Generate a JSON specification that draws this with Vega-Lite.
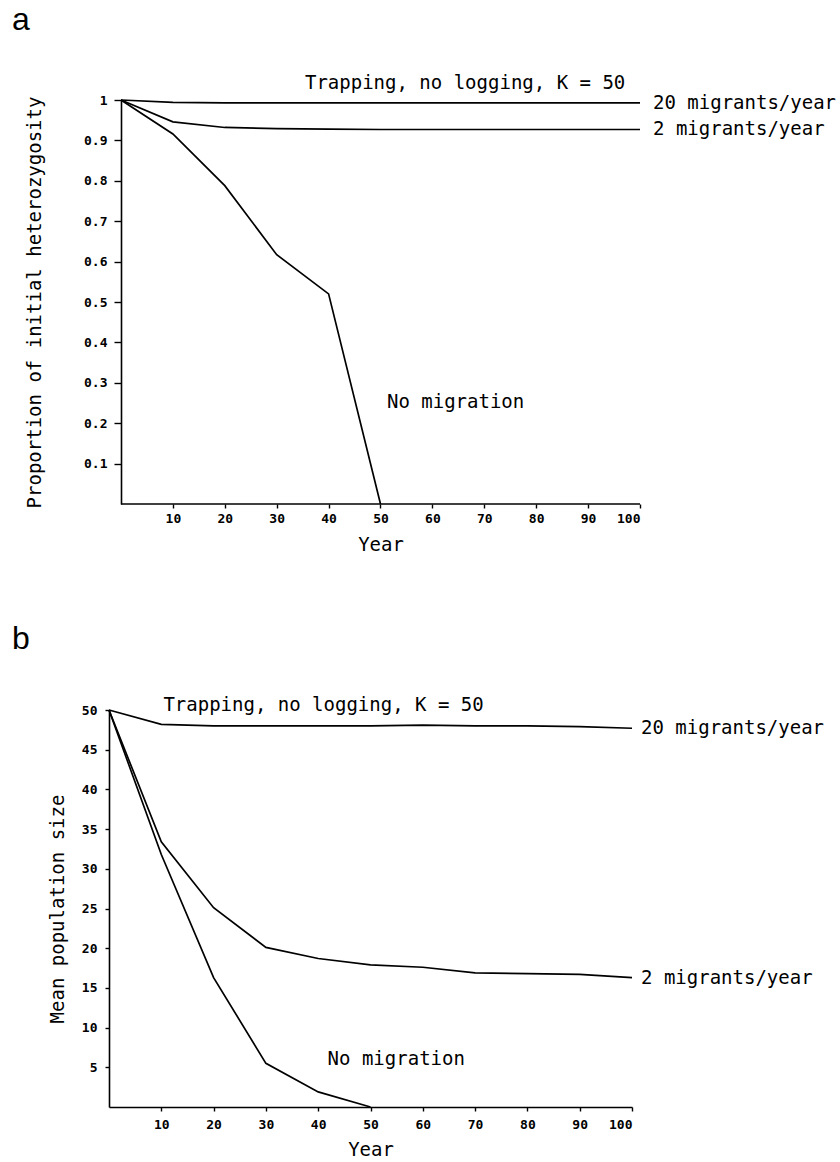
{
  "$schema": "https://vega.github.io/schema/vega-lite/v6.json",
  "background": "white",
  "padding": {"left": 12, "top": 4, "right": 0, "bottom": 0},
  "config": {
    "view": {"stroke": null},
    "font": "DejaVu Sans Mono",
    "axis": {
      "grid": false,
      "domainColor": "black", "domainWidth": 1.6,
      "tickColor": "black", "tickWidth": 1.4,
      "labelColor": "black", "labelFont": "DejaVu Sans Mono", "labelFontSize": 13, "labelFontWeight": "bold",
      "titleColor": "black", "titleFont": "DejaVu Sans Mono", "titleFontSize": 19, "titleFontWeight": "normal"
    },
    "title": {"font": "Liberation Sans", "fontSize": 32, "fontWeight": "normal", "color": "black", "anchor": "start", "frame": "group", "baseline": "alphabetic"},
    "concat": {"spacing": 69}
  },
  "datasets": {
    "seriesA": [
      {"series": "20 migrants/year", "year": 0, "h": 1},
      {"series": "20 migrants/year", "year": 10, "h": 0.994},
      {"series": "20 migrants/year", "year": 20, "h": 0.993},
      {"series": "20 migrants/year", "year": 30, "h": 0.993},
      {"series": "20 migrants/year", "year": 40, "h": 0.993},
      {"series": "20 migrants/year", "year": 50, "h": 0.993},
      {"series": "20 migrants/year", "year": 60, "h": 0.993},
      {"series": "20 migrants/year", "year": 70, "h": 0.993},
      {"series": "20 migrants/year", "year": 80, "h": 0.993},
      {"series": "20 migrants/year", "year": 90, "h": 0.993},
      {"series": "20 migrants/year", "year": 100, "h": 0.993},
      {"series": "2 migrants/year", "year": 0, "h": 1},
      {"series": "2 migrants/year", "year": 10, "h": 0.946},
      {"series": "2 migrants/year", "year": 20, "h": 0.932},
      {"series": "2 migrants/year", "year": 30, "h": 0.929},
      {"series": "2 migrants/year", "year": 40, "h": 0.928},
      {"series": "2 migrants/year", "year": 50, "h": 0.927},
      {"series": "2 migrants/year", "year": 60, "h": 0.927},
      {"series": "2 migrants/year", "year": 70, "h": 0.927},
      {"series": "2 migrants/year", "year": 80, "h": 0.927},
      {"series": "2 migrants/year", "year": 90, "h": 0.927},
      {"series": "2 migrants/year", "year": 100, "h": 0.927},
      {"series": "No migration", "year": 0, "h": 1},
      {"series": "No migration", "year": 10, "h": 0.916},
      {"series": "No migration", "year": 20, "h": 0.788},
      {"series": "No migration", "year": 30, "h": 0.617},
      {"series": "No migration", "year": 40, "h": 0.52},
      {"series": "No migration", "year": 50, "h": 0}
    ],
    "seriesB": [
      {"series": "20 migrants/year", "year": 0, "n": 50},
      {"series": "20 migrants/year", "year": 10, "n": 48.2},
      {"series": "20 migrants/year", "year": 20, "n": 48},
      {"series": "20 migrants/year", "year": 30, "n": 48},
      {"series": "20 migrants/year", "year": 40, "n": 48},
      {"series": "20 migrants/year", "year": 50, "n": 48},
      {"series": "20 migrants/year", "year": 60, "n": 48.1},
      {"series": "20 migrants/year", "year": 70, "n": 48},
      {"series": "20 migrants/year", "year": 80, "n": 48},
      {"series": "20 migrants/year", "year": 90, "n": 47.9},
      {"series": "20 migrants/year", "year": 100, "n": 47.7},
      {"series": "2 migrants/year", "year": 0, "n": 50},
      {"series": "2 migrants/year", "year": 10, "n": 33.4},
      {"series": "2 migrants/year", "year": 20, "n": 25.1},
      {"series": "2 migrants/year", "year": 30, "n": 20.1},
      {"series": "2 migrants/year", "year": 40, "n": 18.7},
      {"series": "2 migrants/year", "year": 50, "n": 17.9},
      {"series": "2 migrants/year", "year": 60, "n": 17.6},
      {"series": "2 migrants/year", "year": 70, "n": 16.9},
      {"series": "2 migrants/year", "year": 80, "n": 16.8},
      {"series": "2 migrants/year", "year": 90, "n": 16.7},
      {"series": "2 migrants/year", "year": 100, "n": 16.3},
      {"series": "No migration", "year": 0, "n": 50},
      {"series": "No migration", "year": 10, "n": 31.8},
      {"series": "No migration", "year": 20, "n": 16.3},
      {"series": "No migration", "year": 30, "n": 5.5},
      {"series": "No migration", "year": 40, "n": 1.9},
      {"series": "No migration", "year": 50, "n": 0}
    ],
    "inlineA": [
      {"label": "Trapping, no logging, K = 50", "year": 35.45, "h": 1.042},
      {"label": "No migration", "year": 51.25, "h": 0.252}
    ],
    "endA": [
      {"label": "20 migrants/year", "year": 100, "h": 0.993},
      {"label": "2 migrants/year", "year": 100, "h": 0.927}
    ],
    "inlineB": [
      {"label": "Trapping, no logging, K = 50", "year": 10.4, "n": 50.6},
      {"label": "No migration", "year": 41.8, "n": 6.0}
    ],
    "endB": [
      {"label": "20 migrants/year", "year": 100, "n": 47.7},
      {"label": "2 migrants/year", "year": 100, "n": 16.3}
    ]
  },
  "vconcat": [
    {
      "width": 531,
      "height": 404,
      "title": {"text": "a", "dx": -97, "offset": 37},
      "layer": [
        {
          "data": {"name": "seriesA"},
          "mark": {"type": "line", "color": "black", "strokeWidth": 1.7},
          "encoding": {
            "x": {
              "field": "year", "type": "quantitative",
              "scale": {"domain": [-2.31, 100], "nice": false, "zero": false},
              "axis": {
                "title": "Year", "domain": false,
                "values": [10, 20, 30, 40, 50, 60, 70, 80, 90, 100],
                "tickSize": 4, "labelPadding": 4,
                "titleX": 271.5, "titleY": 40, "titleBaseline": "middle"
              }
            },
            "y": {
              "field": "h", "type": "quantitative",
              "scale": {"domain": [0, 1], "nice": false},
              "axis": {
                "title": "Proportion of initial heterozygosity",
                "offset": -12,
                "values": [0.1, 0.2, 0.3, 0.4, 0.5, 0.6, 0.7, 0.8, 0.9, 1],
                "labelExpr": "datum.value == 1 ? '1' : format(datum.value, '.1f')",
                "tickSize": 7, "labelPadding": 7,
                "titleX": -87, "titleBaseline": "middle"
              }
            },
            "detail": {"field": "series", "type": "nominal"}
          }
        },
        {
          "data": {"values": [{}]},
          "mark": {"type": "rule", "color": "black", "strokeWidth": 1.6},
          "encoding": {
            "x": {"datum": 0, "type": "quantitative"},
            "x2": {"datum": 100},
            "y": {"datum": 0, "type": "quantitative"}
          }
        },
        {
          "data": {"name": "inlineA"},
          "mark": {"type": "text", "align": "left", "baseline": "middle", "font": "DejaVu Sans Mono", "fontSize": 19, "color": "black"},
          "encoding": {
            "x": {"field": "year", "type": "quantitative"},
            "y": {"field": "h", "type": "quantitative"},
            "text": {"field": "label"}
          }
        },
        {
          "data": {"name": "endA"},
          "mark": {"type": "text", "align": "left", "baseline": "middle", "dx": 13, "font": "DejaVu Sans Mono", "fontSize": 19, "color": "black"},
          "encoding": {
            "x": {"field": "year", "type": "quantitative"},
            "y": {"field": "h", "type": "quantitative"},
            "text": {"field": "label"}
          }
        }
      ]
    },
    {
      "width": 523,
      "height": 397,
      "title": {"text": "b", "dx": -97, "offset": 40},
      "layer": [
        {
          "data": {"name": "seriesB"},
          "mark": {"type": "line", "color": "black", "strokeWidth": 1.7},
          "encoding": {
            "x": {
              "field": "year", "type": "quantitative",
              "scale": {"domain": [0, 100], "nice": false},
              "axis": {
                "title": "Year",
                "values": [10, 20, 30, 40, 50, 60, 70, 80, 90, 100],
                "tickSize": 4, "labelPadding": 7,
                "titleY": 42, "titleBaseline": "middle"
              }
            },
            "y": {
              "field": "n", "type": "quantitative",
              "scale": {"domain": [0, 50], "nice": false},
              "axis": {
                "title": "Mean population size",
                "values": [5, 10, 15, 20, 25, 30, 35, 40, 45, 50],
                "tickSize": 4, "labelPadding": 8,
                "titleX": -51.5, "titleBaseline": "middle"
              }
            },
            "detail": {"field": "series", "type": "nominal"}
          }
        },
        {
          "data": {"name": "inlineB"},
          "mark": {"type": "text", "align": "left", "baseline": "middle", "font": "DejaVu Sans Mono", "fontSize": 19, "color": "black"},
          "encoding": {
            "x": {"field": "year", "type": "quantitative"},
            "y": {"field": "n", "type": "quantitative"},
            "text": {"field": "label"}
          }
        },
        {
          "data": {"name": "endB"},
          "mark": {"type": "text", "align": "left", "baseline": "middle", "dx": 9, "font": "DejaVu Sans Mono", "fontSize": 19, "color": "black"},
          "encoding": {
            "x": {"field": "year", "type": "quantitative"},
            "y": {"field": "n", "type": "quantitative"},
            "text": {"field": "label"}
          }
        }
      ]
    }
  ]
}
